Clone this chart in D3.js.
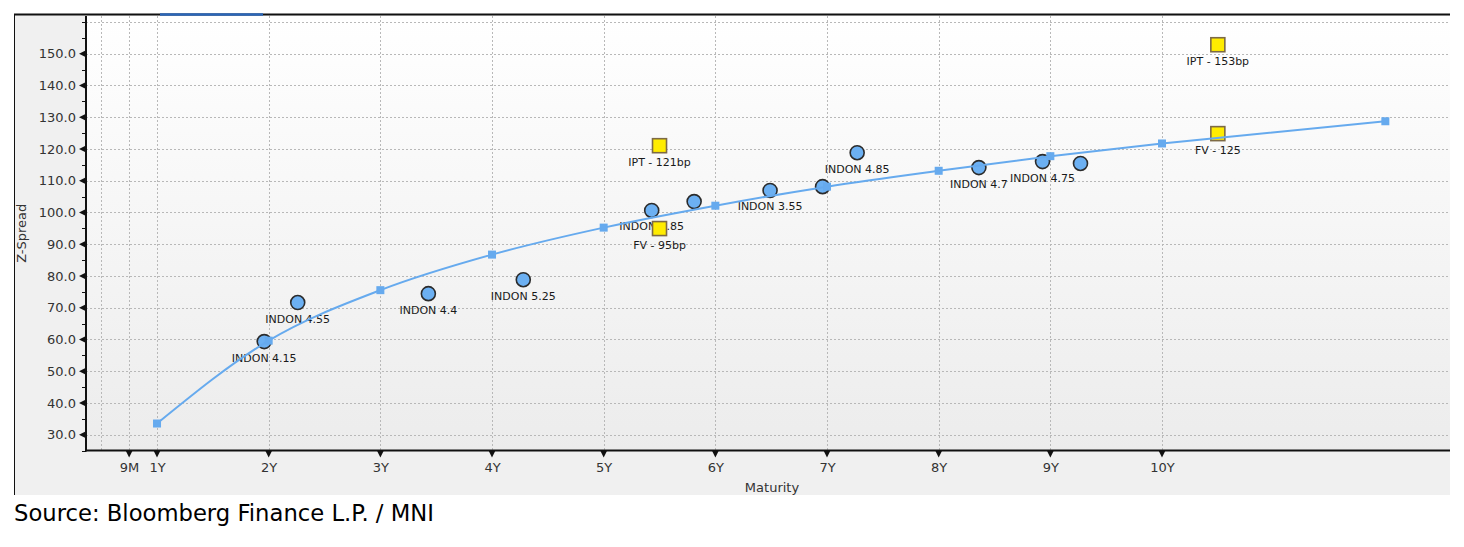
<!DOCTYPE html>
<html><head><meta charset="utf-8">
<script src="https://cdn.jsdelivr.net/npm/d3@7"></script>
<style>
html,body{margin:0;padding:0;background:#fff;}
svg{display:block;}
text{font-family:"DejaVu Sans",sans-serif;}
</style></head>
<body>
<svg id="c" width="1464" height="547"></svg>
<script>
// ---- data ----
const curveTenor = [1, 2, 3, 4, 5, 6, 7, 8, 9, 10, 12];
const curveZ = [33.5, 59.6, 75.5, 86.7, 95.2, 102.1, 108.1, 113.1, 117.7, 121.7, 128.7];

const bondNames = ["INDON 4.15", "INDON 4.55", "INDON 4.4", "INDON 5.25", "INDON 1.85", "", "INDON 3.55", "", "INDON 4.85", "INDON 4.7", "INDON 4.75", ""];
const bondTenor = [1.96, 2.26, 3.43, 4.28, 5.43, 5.81, 6.49, 6.96, 7.27, 8.36, 8.93, 9.27];
const bondZ = [59.3, 71.6, 74.4, 78.8, 100.6, 103.4, 106.9, 108.1, 118.8, 114.1, 116.0, 115.4];

const newNames = ["IPT - 121bp", "FV - 95bp", "IPT - 153bp", "FV - 125"];
const newTenor = [5.5, 5.5, 10.5, 10.5];
const newZ = [121.0, 94.9, 152.8, 124.8];

const xTickValues = [0.75, 1, 2, 3, 4, 5, 6, 7, 8, 9, 10];
const xTickLabels = ["9M", "1Y", "2Y", "3Y", "4Y", "5Y", "6Y", "7Y", "8Y", "9Y", "10Y"];
const xGridValues = [0.5, 0.75, 1, 2, 3, 4, 5, 6, 7, 8, 9, 10];
const yTickValues = [30, 40, 50, 60, 70, 80, 90, 100, 110, 120, 130, 140, 150];
const yGridValues = [30, 40, 50, 60, 70, 80, 90, 100, 110, 120, 130, 140, 150, 160];
const yMinorValues = d3.range(25, 161, 5);

const xTitle = "Maturity";
const yTitle = "Z-Spread";
const sourceText = "Source: Bloomberg Finance L.P. / MNI";

// ---- layout ----
const L = 86, R = 1450, T = 16, B = 450.5, frameL = 14, frameB = 495;
const svg = d3.select("#c");
const x = d3.scaleLinear().domain([0.364, 12.579]).range([L, R]);
const y = d3.scaleLinear().domain([25, 162]).range([B, B - 137 * 3.175]);

const defs = svg.append("defs");
const grad = defs.append("linearGradient").attr("id", "bg").attr("x1", 0).attr("y1", 0).attr("x2", 0).attr("y2", 1);
grad.append("stop").attr("offset", "0%").attr("stop-color", "#ffffff");
grad.append("stop").attr("offset", "100%").attr("stop-color", "#ececec");

// panels
svg.append("rect").attr("x", frameL).attr("y", 15).attr("width", R - frameL).attr("height", frameB - 15).attr("fill", "#f0f0f0");
svg.append("rect").attr("x", L).attr("y", T).attr("width", R - L).attr("height", B - T).attr("fill", "url(#bg)");
// frame lines
svg.append("line").attr("x1", frameL).attr("x2", R).attr("y1", 14.5).attr("y2", 14.5).attr("stroke", "#111").attr("stroke-width", 2);
svg.append("line").attr("x1", 160).attr("x2", 263).attr("y1", 14.5).attr("y2", 14.5).attr("stroke", "#2a66b8").attr("stroke-width", 2.5);
svg.append("line").attr("x1", frameL + 0.5).attr("x2", frameL + 0.5).attr("y1", 14).attr("y2", frameB).attr("stroke", "#111").attr("stroke-width", 1);

// grid
const grid = svg.append("g");
grid.selectAll("line.h").data(yGridValues).join("line")
  .attr("x1", L).attr("x2", R).attr("y1", d => Math.round(y(d)) + 0.5).attr("y2", d => Math.round(y(d)) + 0.5)
  .attr("stroke", "#b8b8b8").attr("stroke-dasharray", "2,2");
grid.selectAll("line.v").data(xGridValues).join("line")
  .attr("y1", T).attr("y2", B).attr("x1", d => Math.round(x(d)) + 0.5).attr("x2", d => Math.round(x(d)) + 0.5)
  .attr("stroke", "#b8b8b8").attr("stroke-dasharray", "2,2");

// axes
const yAxis = d3.axisLeft(y).tickValues(yTickValues).tickFormat(d3.format(".1f")).tickSize(0).tickPadding(10);
const gy = svg.append("g").attr("transform", `translate(${L},0)`).call(yAxis);
gy.select(".domain").remove();
gy.selectAll("text").attr("font-size", 13).attr("fill", "#333").attr("font-family", "DejaVu Sans");

const xAxis = d3.axisBottom(x).tickValues(xTickValues).tickFormat((d, i) => xTickLabels[i]).tickSize(0).tickPadding(12);
const gx = svg.append("g").attr("transform", `translate(0,${B})`).call(xAxis);
gx.select(".domain").remove();
gx.selectAll("text").attr("font-size", 13).attr("fill", "#333").attr("font-family", "DejaVu Sans");

// minor ticks
svg.append("g").selectAll("line").data(yMinorValues).join("line")
  .attr("x1", L - 4).attr("x2", L).attr("y1", d => Math.round(y(d)) + 0.5).attr("y2", d => Math.round(y(d)) + 0.5)
  .attr("stroke", "#111");
// major tick triangles
svg.append("g").selectAll("path").data(yTickValues).join("path")
  .attr("d", d => { const yy = y(d); return `M${L - 7},${yy} L${L},${yy - 3.5} L${L},${yy + 3.5} Z`; })
  .attr("fill", "#111");
svg.append("g").selectAll("path").data(xTickValues).join("path")
  .attr("d", d => { const xx = x(d); return `M${xx - 3.5},${B} L${xx + 3.5},${B} L${xx},${B + 7} Z`; })
  .attr("fill", "#111");
// axis lines
svg.append("line").attr("x1", L).attr("x2", L).attr("y1", T).attr("y2", B + 1).attr("stroke", "#111").attr("stroke-width", 2);
svg.append("line").attr("x1", L).attr("x2", R).attr("y1", B).attr("y2", B).attr("stroke", "#111").attr("stroke-width", 2);

// titles
svg.append("text").attr("transform", `translate(26,${(T + B) / 2}) rotate(-90)`).attr("text-anchor", "middle")
  .attr("font-size", 13).attr("fill", "#333").text(yTitle);
svg.append("text").attr("x", (L + R) / 2 + 4).attr("y", 492).attr("text-anchor", "middle")
  .attr("font-size", 13).attr("fill", "#333").text(xTitle);

// bonds (circles)
const bonds = bondTenor.map((t, i) => ({ t, z: bondZ[i], n: bondNames[i] }));
svg.append("g").selectAll("circle").data(bonds).join("circle")
  .attr("cx", d => x(d.t)).attr("cy", d => y(d.z)).attr("r", 7)
  .attr("fill", "#6cb0f2").attr("stroke", "#2b2b2b").attr("stroke-width", 1.6);
svg.append("g").selectAll("text").data(bonds).join("text")
  .attr("x", d => x(d.t)).attr("y", d => y(d.z) + 20).attr("text-anchor", "middle")
  .attr("font-size", 11).attr("fill", "#1a1a1a").text(d => d.n);

// new issue (squares)
const news = newTenor.map((t, i) => ({ t, z: newZ[i], n: newNames[i] }));
svg.append("g").selectAll("rect").data(news).join("rect")
  .attr("x", d => x(d.t) - 7).attr("y", d => y(d.z) - 7).attr("width", 14).attr("height", 14)
  .attr("fill", "#ffec00").attr("stroke", "#7d6a45").attr("stroke-width", 1.6);
svg.append("g").selectAll("text").data(news).join("text")
  .attr("x", d => x(d.t)).attr("y", d => y(d.z) + 20).attr("text-anchor", "middle")
  .attr("font-size", 11).attr("fill", "#1a1a1a").text(d => d.n);

// curve
const curve = curveTenor.map((t, i) => ({ t, z: curveZ[i] }));
svg.append("path").datum(curve)
  .attr("d", d3.line().x(d => x(d.t)).y(d => y(d.z)).curve(d3.curveMonotoneX))
  .attr("fill", "none").attr("stroke", "#66aaee").attr("stroke-width", 2);
svg.append("g").selectAll("rect").data(curve).join("rect")
  .attr("x", d => x(d.t) - 4).attr("y", d => y(d.z) - 4).attr("width", 8).attr("height", 8)
  .attr("fill", "#66aaee");

// source
svg.append("text").attr("x", 14).attr("y", 521).attr("font-family", "Open Sans").attr("font-size", 22.7)
  .attr("fill", "#000").text(sourceText);
</script>
</body></html>
